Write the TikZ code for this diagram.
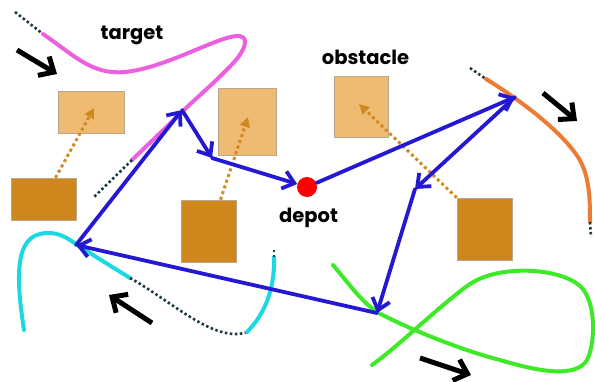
\documentclass[tikz,border=0pt]{standalone}
\usepackage{fontspec}
\setmainfont{Poppins}
\usetikzlibrary{arrows.meta}
\definecolor{routeblue}{HTML}{2418D2}
\definecolor{obslight}{HTML}{EFBB72}
\definecolor{obsdark}{HTML}{CF861C}
\definecolor{obsedge}{HTML}{B8A890}
\definecolor{moveorange}{HTML}{D08A20}
\definecolor{trackdark}{HTML}{1C3A44}
\definecolor{tgtpink}{HTML}{EC60E0}
\definecolor{tgtcyan}{HTML}{1CD8E2}
\definecolor{tgtorange}{HTML}{EC7C34}
\definecolor{tgtgreen}{HTML}{3EEA28}
\tikzset{
  route/.style={draw=routeblue, line width=3.8pt, line cap=round,
    -{Straight Barb[length=11pt,width=18pt]}},
  oldbox/.style={fill=obslight, draw=obsedge, line width=0.6pt, inner sep=0pt},
  newbox/.style={fill=obsdark, draw=obsedge, line width=0.6pt, inner sep=0pt},
  drift/.style={draw=moveorange, line width=3pt, dash pattern=on 3pt off 3pt,
    -{Triangle[length=10pt,width=10pt]}},
  track/.style={draw=trackdark, line width=2.6pt, dash pattern=on 2.5pt off 2.5pt},
  tgt/.style={line width=4pt, line cap=round},
  heading/.style={draw=black, line width=5pt,
    -{Straight Barb[length=12pt,width=22pt]}},
  lbl/.style={font=\bfseries\fontsize{19.5}{22}\selectfont, inner sep=0pt, anchor=base}
}
\begin{document}
\begin{tikzpicture}[x=1pt,y=-1pt]
\useasboundingbox (0,0) rectangle (595,381);

% obstacles: previous (light) and current (dark) positions
\node[oldbox, minimum width=66pt, minimum height=42pt] (o1old) at (91,112) {};
\node[oldbox, minimum width=58pt, minimum height=67pt] (o2old) at (247,121.5) {};
\node[oldbox, minimum width=54pt, minimum height=61pt] (o3old) at (361,106.5) {};
\node[newbox, minimum width=65pt, minimum height=42pt] (o1new) at (43.5,199) {};
\node[newbox, minimum width=55pt, minimum height=62pt] (o2new) at (208.5,231) {};
\node[newbox, minimum width=55pt, minimum height=62pt] (o3new) at (484.5,229) {};

% obstacle motion
\coordinate (m1) at (94,108);
\coordinate (m2) at (248,117);
\coordinate (m3) at (359,104);
\draw[drift] ([xshift=12pt]o1new.north) -- (m1);
\draw[drift] ([xshift=12pt]o2new.north) -- (m2);
\draw[drift] (o3new.north west) -- (m3);

% target trajectories
\draw[track] (15,12) -- (43,34);
\draw[tgt, tgtpink] (43,34) .. controls (75,56) and (92,75) .. (125,72)
  .. controls (165,68) and (215,38) .. (236,36)
  .. controls (250,35) and (246,48) .. (236,60)
  .. controls (218,80) and (196,98) .. (182,112) -- (132,160);
\draw[track] (132,160) -- (93,198);

\draw[tgt, tgtcyan] (24,330) .. controls (18,290) and (12,240) .. (40,234)
  .. controls (56,230) and (68,238) .. (77,245) -- (130,278);
\draw[track] (130,278) .. controls (170,300) and (215,344) .. (247,332);
\draw[tgt, tgtcyan] (247,332) .. controls (264,315) and (275,290) .. (274,257);
\draw[track] (274,257) -- (274,250);

\draw[track] (470,68) -- (486,79);
\draw[tgt, tgtorange] (486,79) .. controls (520,100) and (560,130) .. (578,157)
  .. controls (590,176) and (590,200) .. (590,222);
\draw[track] (590,222) -- (591,237);

\draw[tgt, tgtgreen] (333,265) .. controls (350,285) and (360,300) .. (377,312)
  .. controls (400,325) and (460,350) .. (500,360)
  .. controls (540,372) and (576,378) .. (587,360)
  .. controls (596,342) and (596,300) .. (580,286)
  .. controls (560,268) and (500,264) .. (470,284)
  .. controls (440,305) and (400,345) .. (372,365);

% target headings
\coordinate (h1a) at (17,50);   \coordinate (h1b) at (57,74);
\coordinate (h2a) at (543,93);  \coordinate (h2b) at (577,121);
\coordinate (h3a) at (152,323); \coordinate (h3b) at (109,295);
\coordinate (h4a) at (420,358); \coordinate (h4b) at (471,375);
\draw[heading] (h1a) -- (h1b);
\draw[heading] (h2a) -- (h2b);
\draw[heading] (h3a) -- (h3b);
\draw[heading] (h4a) -- (h4b);

% vehicle route
\node[circle, fill=red, minimum size=20pt, inner sep=0pt] (depot) at (307,187) {};
\coordinate (w1) at (76,245);
\coordinate (w2) at (182,110);
\coordinate (w3) at (212,158);
\coordinate (w4) at (515,97);
\coordinate (w5) at (415,189);
\coordinate (w6) at (377,313);
\draw[route] (w1) -- (w2);
\draw[route] (w2) -- (w3);
\draw[route] (w3) -- (depot);
\draw[route] (depot) -- (w4);
\draw[route] (w4) -- (w5);
\draw[route] (w5) -- (w6);
\draw[route] (w6) -- (w1);

% labels
\node[lbl] (ltarget) at (132,39) {target};
\node[lbl] (lobst) at (365.5,64) {obstacle};
\node[lbl] (ldepot) at (308.5,222) {depot};
\end{tikzpicture}
\end{document}
